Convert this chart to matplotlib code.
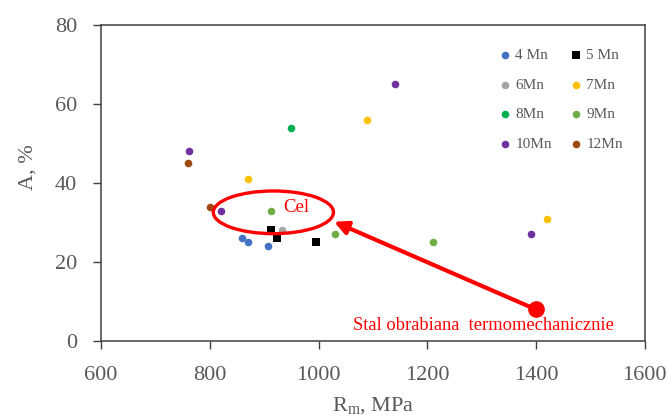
import matplotlib
matplotlib.use("Agg")
import matplotlib.pyplot as plt
from matplotlib.patches import Ellipse, FancyArrowPatch

plt.rcParams.update({
    "font.family": "Liberation Serif",
    "mathtext.fontset": "custom",
    "mathtext.rm": "Liberation Serif",
    "mathtext.it": "Liberation Serif:italic",
})

TXT = "#595959"
AX = "#404040"

# Rm [MPa] / A [%] for each Mn grade
groups = ["4 Mn", "5 Mn", "6Mn", "7Mn", "8Mn", "9Mn", "10Mn", "12Mn"]
rm = [
    [860, 870, 907],
    [912, 924, 995],
    [933],
    [871, 1090, 1421],
    [950],
    [912, 1030, 1210],
    [762, 1141, 820, 1390],
    [760, 801],
]
elong = [
    [26, 25, 24],
    [28, 26, 25],
    [28],
    [41, 56, 31],
    [54],
    [33, 27, 25],
    [48, 65, 33, 27],
    [45, 34],
]
colors = ["#4472C4", "#000000", "#A5A5A5", "#FFC000",
          "#00B050", "#70AD47", "#7030A0", "#9E480E"]
markers = ["o", "s", "o", "o", "o", "o", "o", "o"]

# target window and the thermo-mechanically treated steel
target_xy, target_w, target_h = (917, 32.6), 221, 10.8
tmp_xy = (1400, 8)
arrow_tip = (1024, 30.5)

fig = plt.figure(figsize=(6.71, 4.18), dpi=100)
ax = fig.add_axes([0.1505, 0.184, 0.8105, 0.756])

handles = {}
for g, xs, ys, c, m in zip(groups, rm, elong, colors, markers):
    handles[g] = ax.scatter(xs, ys, s=30 if m == "o" else 34, marker=m,
                            color=c, label=g, zorder=3, linewidths=0)

ax.add_patch(Ellipse(target_xy, target_w, target_h, fill=False,
                     edgecolor="#FF0000", linewidth=2.4, zorder=4))
ax.text(960, 33.8, "Cel", color="#FF0000", fontsize=13.5,
        ha="center", va="center", zorder=5)

ax.add_patch(FancyArrowPatch(tmp_xy, arrow_tip, arrowstyle="-|>",
                             mutation_scale=20, linewidth=3,
                             color="#FF0000", zorder=4))
ax.plot(*tmp_xy, "o", color="#FF0000", markersize=11, zorder=5)
ax.text(1304, 4.0, "Stal obrabiana  termomechanicznie", color="#FF0000",
        fontsize=13.3, ha="center", va="center", zorder=5)

ax.set_xlim(600, 1600)
ax.set_ylim(0, 80)
ax.set_xticks(range(600, 1601, 200))
ax.set_yticks(range(0, 81, 20))
ax.tick_params(direction="out", length=6, width=1, color=AX,
               labelsize=16, labelcolor=TXT)
ax.tick_params(axis="x", pad=12)
ax.tick_params(axis="y", pad=11)
for sp in ax.spines.values():
    sp.set_color(AX)
    sp.set_linewidth(1.1)

ax.set_xlabel(r"R$_{\mathrm{m}}$, MPa", fontsize=16, color=TXT, labelpad=7)
ax.set_ylabel("A, %", fontsize=16, color=TXT)
ax.yaxis.set_label_coords(-0.117, 0.55)

# row-wise legend: 4/5, 6/7, 8/9, 10/12
order = ["4 Mn", "6Mn", "8Mn", "10Mn", "5 Mn", "7Mn", "9Mn", "12Mn"]
ax.legend([handles[k] for k in order], order, ncol=2, loc="upper right",
          bbox_to_anchor=(0.985, 0.97), frameon=False, fontsize=11,
          labelcolor=TXT, handletextpad=0.05, columnspacing=1.0,
          labelspacing=1.05, markerscale=1.0, handlelength=1.2)

fig.savefig("out.png", dpi=100)
